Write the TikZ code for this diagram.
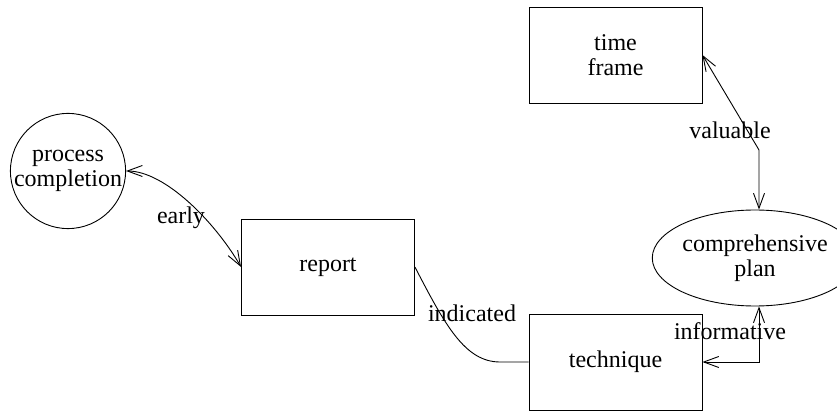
\documentclass[tikz,border=0pt]{standalone}
\usepackage{fontspec}
\setmainfont{Liberation Serif}
\newfontfamily\tmsfont{Liberation Serif}
\usetikzlibrary{arrows.meta,shapes.geometric}
\begin{document}
\begin{tikzpicture}[x=1pt,y=-1pt,
  every node/.style={font=\tmsfont\fontsize{24}{24.5}\selectfont, align=center, inner sep=0pt},
  boxnode/.style={draw, rectangle, line width=0.9pt, minimum width=173pt, minimum height=96pt},
  circnode/.style={draw, circle, line width=0.9pt, minimum size=114pt},
  ellnode/.style={draw, ellipse, line width=0.9pt, minimum width=164pt, minimum height=96pt},
  conn/.style={line width=0.9pt},
  bi/.style={conn, {Straight Barb[length=15pt,width=11pt]}-{Straight Barb[length=15pt,width=11pt]}},
  lbl/.style={fill=none}]
\useasboundingbox (0,0) rectangle (837,411);
\node[circnode] (pc) at (68,171) {process\\completion};
\node[boxnode] (tf) at (615.5,55) {time\\frame};
\node[boxnode] (rp) at (328,267) {report};
\node[boxnode] (tq) at (615.5,362) {technique};
\node[ellnode] (cp) at (755,258) {comprehensive\\plan};
\coordinate (v1) at (759,150);
\coordinate (v2) at (759,362);
\coordinate (h1) at (500,362);
\draw[bi] (pc.east) .. controls (165,171) and (215,222) .. (rp.west);
\draw[conn] (rp.east) .. controls (445,325) and (465,362) .. (h1) -- (tq.west);
\draw[bi] (tf.east) -- (v1) -- (v1 |- cp.north);
\draw[bi] (tq.east) -- (v2) -- (v2 |- cp.south);
\node[lbl] (l1) at (181,218) {early};
\node[lbl] (l2) at (472,313) {indicated};
\node[lbl] (l3) at (730,130) {valuable};
\node[lbl] (l4) at (730,331) {informative};
\end{tikzpicture}
\end{document}
